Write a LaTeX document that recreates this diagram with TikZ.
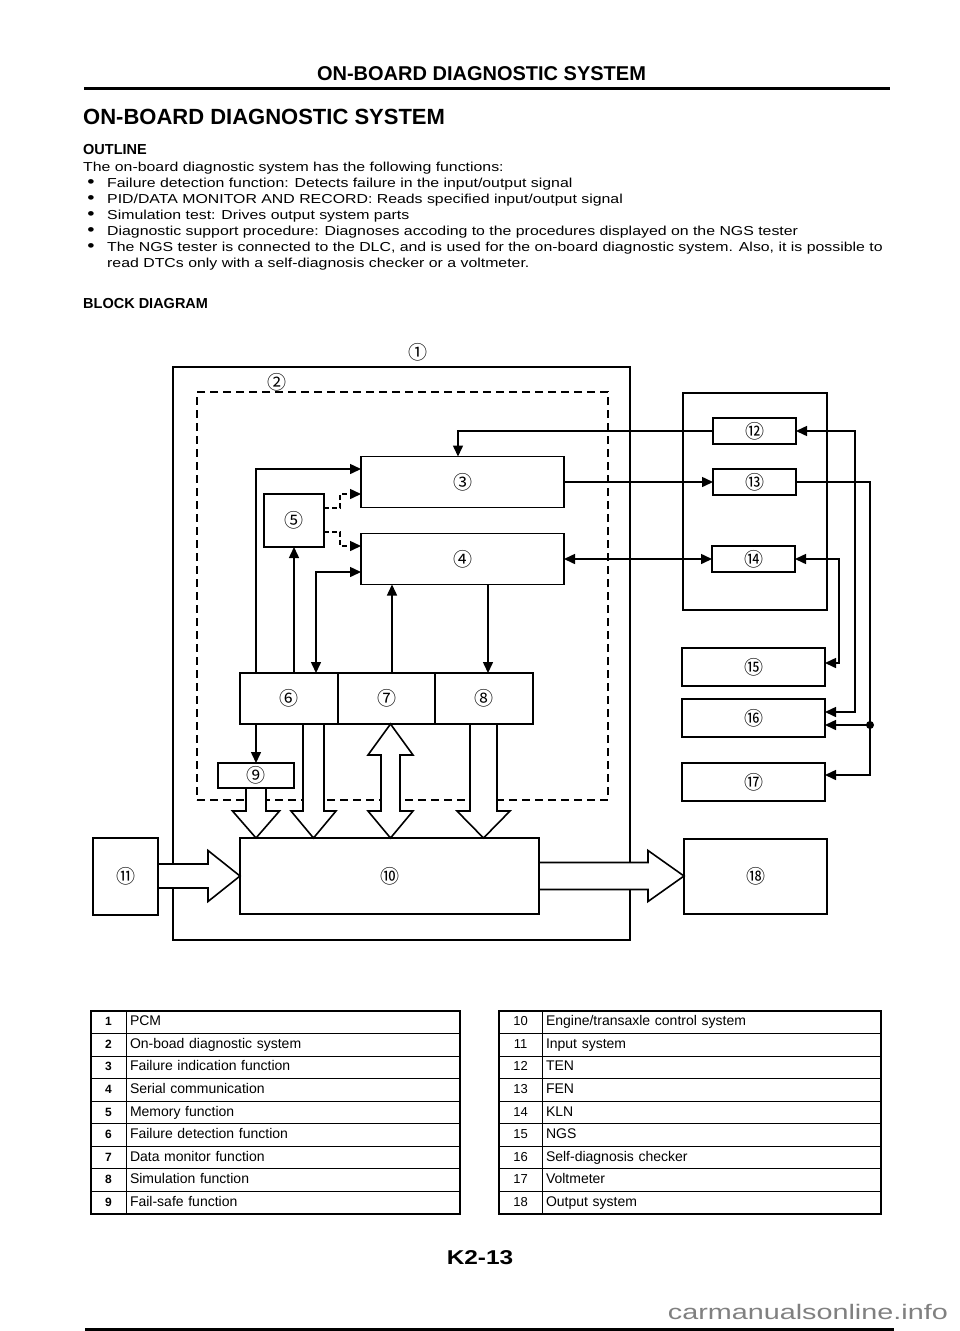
\documentclass[tikz,border=0pt]{standalone}
\usepackage{fontspec}
\setmainfont{Liberation Sans}
\newfontfamily\bodyf{Liberation Sans}[FakeStretch=1.22]
\newfontfamily\wmf{Liberation Sans}[FakeStretch=1.37]
\newfontfamily\circf{Noto Sans CJK JP}
\usetikzlibrary{arrows.meta,calc}
\newcommand\hollowdown[5]{%
  \draw[hollow] ($(#1)+(-#3,1)$) -- ($(#2)+(-#3,-#5)$) -- ($(#2)+(-#4,-#5)$) -- (#2)
    -- ($(#2)+(#4,-#5)$) -- ($(#2)+(#3,-#5)$) -- ($(#1)+(#3,1)$);}
\newcommand\hollowright[5]{%
  \draw[hollow] ($(#1)+(1,-#3)$) -- ($(#2)+(-#5,-#3)$) -- ($(#2)+(-#5,-#4)$) -- (#2)
    -- ($(#2)+(-#5,#4)$) -- ($(#2)+(-#5,#3)$) -- ($(#1)+(1,#3)$);}
\tikzset{
  blk/.style={draw, line width=1.8pt, inner sep=0pt, outer sep=0pt, font=\circf\fontsize{19}{19}\selectfont},
  frame/.style={draw, line width=1.5pt, inner sep=0pt, outer sep=0pt},
  dframe/.style={draw, line width=1.6pt, dash pattern=on 8pt off 5pt, inner sep=0pt, outer sep=0pt},
  circ/.style={inner sep=0pt, font=\circf\fontsize{19}{19}\selectfont},
  conn/.style={line width=1.5pt},
  dconn/.style={line width=1.5pt, dash pattern=on 5pt off 3pt},
  hollow/.style={draw, fill=white, line width=1.6pt, line join=miter},
  bodytxt/.style={anchor=base west, inner sep=0pt, font=\bodyf\fontsize{13}{16}\selectfont},
  bul/.style={anchor=base, inner sep=0pt, font=\bodyf\fontsize{17}{16}\selectfont},
  numcell/.style={draw, line width=1pt, minimum width=35, minimum height=22.56, text height=9pt, text depth=2pt, inner sep=0pt, outer sep=0pt, font=\bfseries\fontsize{12}{12}\selectfont},
  txtcell/.style={draw, line width=1pt, minimum height=22.56, text width=326, text height=10pt, text depth=3pt, inner xsep=4pt, inner ysep=0pt, outer sep=0pt, align=left, font=\fontsize{14}{15}\selectfont},
  numcellr/.style={draw, line width=1pt, minimum width=43, minimum height=22.56, text height=9.5pt, text depth=2.5pt, inner sep=0pt, outer sep=0pt, font=\fontsize{13}{13}\selectfont},
  txtcellr/.style={draw, line width=1pt, minimum height=22.56, text width=331, text height=10pt, text depth=3pt, inner xsep=4pt, inner ysep=0pt, outer sep=0pt, align=left, font=\fontsize{14}{15}\selectfont},
  >={Triangle[length=11pt,width=10pt]}
}
\begin{document}
\begin{tikzpicture}[x=1pt,y=-1pt]
\useasboundingbox (0,0) rectangle (960,1331);
\fill[white] (0,0) rectangle (960,1331);

% header
\node[anchor=base, inner sep=0pt, font=\bfseries\fontsize{20}{20}\selectfont] (hdr) at (481.5,80) {ON-BOARD DIAGNOSTIC SYSTEM};
\draw[line width=3pt] (84,88.5) -- (890,88.5);
\node[anchor=base west, inner sep=0pt, font=\bfseries\fontsize{22}{22}\selectfont] (title) at (83,124.5) {ON-BOARD DIAGNOSTIC SYSTEM};
\node[anchor=base west, inner sep=0pt, font=\bfseries\fontsize{14.5}{15}\selectfont] (outl) at (83,154) {OUTLINE};
\node[bodytxt] (o0) at (83,171) {The on-board diagnostic system has the following functions:};
\node[bul] (b1) at (91,187.5) {•};
\node[bodytxt] (o1) at (107,187) {Failure detection function: Detects failure in the input/output signal};
\node[bul] (b2) at (91,203.5) {•};
\node[bodytxt] (o2) at (107,203) {PID/DATA MONITOR AND RECORD: Reads specified input/output signal};
\node[bul] (b3) at (91,219.5) {•};
\node[bodytxt] (o3) at (107,219) {Simulation test: Drives output system parts};
\node[bul] (b4) at (91,235.5) {•};
\node[bodytxt] (o4) at (107,235) {Diagnostic support procedure: Diagnoses accoding to the procedures displayed on the NGS tester};
\node[bul] (b5) at (91,251.5) {•};
\node[bodytxt] (o5) at (107,251) {The NGS tester is connected to the DLC, and is used for the on-board diagnostic system. Also, it is possible to};
\node[bodytxt] (o6) at (107,267) {read DTCs only with a self-diagnosis checker or a voltmeter.};
\node[anchor=base west, inner sep=0pt, font=\bfseries\fontsize{14.5}{15}\selectfont] (bd) at (83,308) {BLOCK DIAGRAM};

% containers
\node[frame, minimum width=457, minimum height=573] (pcm) at (401.5,653.5) {};
\node[circ] (l1) at (418,352) {①};
\node[dframe, minimum width=411, minimum height=408] (obd) at (402.5,596) {};
\node[circ] (l2) at (277,382) {②};
\node[frame, minimum width=144, minimum height=217] (grp) at (755,501.5) {};

% blocks
\node[blk, minimum width=203, minimum height=51] (n3) at (462.5,482) {③};
\node[blk, minimum width=203, minimum height=51] (n4) at (462.5,559) {④};
\node[blk, minimum width=60, minimum height=53] (n5) at (294,520.5) {⑤};
\node[blk, minimum width=98, minimum height=51] (n6) at (289,698.5) {⑥};
\node[blk, minimum width=97, minimum height=51] (n7) at (386.5,698.5) {⑦};
\node[blk, minimum width=98, minimum height=51] (n8) at (484,698.5) {⑧};
\node[blk, minimum width=76, minimum height=25] (n9) at (256,775.5) {⑨};
\node[blk, minimum width=299, minimum height=76] (n10) at (389.5,876) {⑩};
\node[blk, minimum width=65, minimum height=77] (n11) at (125.5,876.5) {⑪};
\node[blk, minimum width=83, minimum height=26] (n12) at (754.5,431) {⑫};
\node[blk, minimum width=83, minimum height=26] (n13) at (754.5,482) {⑬};
\node[blk, minimum width=83, minimum height=26] (n14) at (753.5,559) {⑭};
\node[blk, minimum width=143, minimum height=38] (n15) at (753.5,667) {⑮};
\node[blk, minimum width=143, minimum height=38] (n16) at (753.5,718) {⑯};
\node[blk, minimum width=143, minimum height=38] (n17) at (753.5,782) {⑰};
\node[blk, minimum width=143, minimum height=75] (n18) at (755.5,876.5) {⑱};

% connectors
\draw[conn,->] (n12.west) -| ($(n3.north)+(-4.5,0)$);
\draw[conn,->] (n3.east) -- (n13.west);
\draw[conn,<->] (n4.east) -- (n14.west);
\draw[conn,->] ($(n6.north west)+(16,0)$) |- ($(n3.west)+(0,-13)$);
\draw[conn,->] (n6.north -| n5.south) -- (n5.south);
\draw[conn,<->] ($(n4.west)+(0,13)$) -| ($(n6.north east)+(-22,0)$);
\coordinate (p7) at ($(n7.north)+(5.5,0)$);
\draw[conn,->] (p7) -- (p7 |- n4.south);
\coordinate (p8) at ($(n8.north)+(4,0)$);
\draw[conn,->] (p8 |- n4.south) -- (p8);
\draw[conn,->] (n9.north |- n6.south) -- (n9.north);
\draw[dconn,->] ($(n5.east)+(0,-12.5)$) -- ++(16,0) |- ($(n3.west)+(0,12)$);
\draw[dconn,->] ($(n5.east)+(0,11.5)$) -- ++(16,0) |- ($(n4.west)+(0,-13)$);
\draw[conn,<->] (n12.east) -| ($(n16.east)+(30,-6)$) -- ($(n16.east)+(0,-6)$);
\draw[conn,->] (n13.east) -| ($(n17.east)+(45,-7)$) -- ($(n17.east)+(0,-7)$);
\coordinate (jd) at ($(n16.east)+(45,7)$);
\fill (jd) circle (4pt);
\draw[conn,->] (jd) -- ($(n16.east)+(0,7)$);
\draw[conn,<->] (n14.east) -| ($(n15.east)+(14,-4)$) -- ($(n15.east)+(0,-4)$);

% hollow arrows
\coordinate (s9) at (n9.south); \coordinate (t9) at (n9.south |- n10.north);
\coordinate (s6) at ($(n6.south)+(24.5,0)$); \coordinate (t6) at (s6 |- n10.north);
\coordinate (s7) at ($(n7.south)+(4,0)$); \coordinate (t7) at (s7 |- n10.north);
\coordinate (s8) at ($(n8.south)+(-0.5,0)$); \coordinate (t8) at (s8 |- n10.north);
\coordinate (s11) at (n11.east |- n10.west); \coordinate (t11) at (n10.west);
\coordinate (s10) at (n10.east); \coordinate (t18) at (n18.west |- n10.east);
\hollowdown{s9}{t9}{10}{23.5}{27}
\hollowdown{s6}{t6}{10.5}{22.5}{27}
\hollowdown{s8}{t8}{13.5}{26.5}{27}
\draw[hollow] (s7) -- ($(s7)+(22.5,31)$) -- ($(s7)+(9.5,31)$) -- ($(t7)+(9.5,-27)$) -- ($(t7)+(22.5,-27)$) -- (t7)
  -- ($(t7)+(-22.5,-27)$) -- ($(t7)+(-9.5,-27)$) -- ($(s7)+(-9.5,31)$) -- ($(s7)+(-22.5,31)$) -- cycle;
\hollowright{s11}{t11}{12}{25.5}{32}
\hollowright{s10}{t18}{13.5}{25.5}{36}

% tables
\foreach \n/\t [count=\i from 0] in {1/PCM, 2/On-boad diagnostic system, 3/Failure indication function, 4/Serial communication, 5/Memory function, 6/Failure detection function, 7/Data monitor function, 8/Simulation function, 9/Fail-safe function}{
  \node[numcell] (ln\n) at (108.5,1022.28+22.56*\i) {\n};
  \node[txtcell] (lt\n) at (293,1022.28+22.56*\i) {\t};
}
\foreach \n/\t [count=\i from 0] in {10/{Engine/transaxle control system}, 11/Input system, 12/TEN, 13/FEN, 14/KLN, 15/NGS, 16/Self-diagnosis checker, 17/Voltmeter, 18/Output system}{
  \node[numcellr] (rn\n) at (520.5,1022.28+22.56*\i) {\n};
  \node[txtcellr] (rt\n) at (711.5,1022.28+22.56*\i) {\t};
}
\draw[line width=2pt] (ln1.north west) rectangle (lt9.south east);
\draw[line width=2pt] (rn10.north west) rectangle (rt18.south east);

% footer
\node[anchor=base, inner sep=0pt, font=\bodyf\bfseries\fontsize{20}{20}\selectfont] (pg) at (480,1264) {K2-13};
\node[anchor=base east, inner sep=0pt, text=black!50, font=\wmf\fontsize{21}{21}\selectfont] (wm) at (948,1319) {carmanualsonline.info};
\draw[line width=3pt] (85,1329) -- (894,1329);
\end{tikzpicture}
\end{document}
